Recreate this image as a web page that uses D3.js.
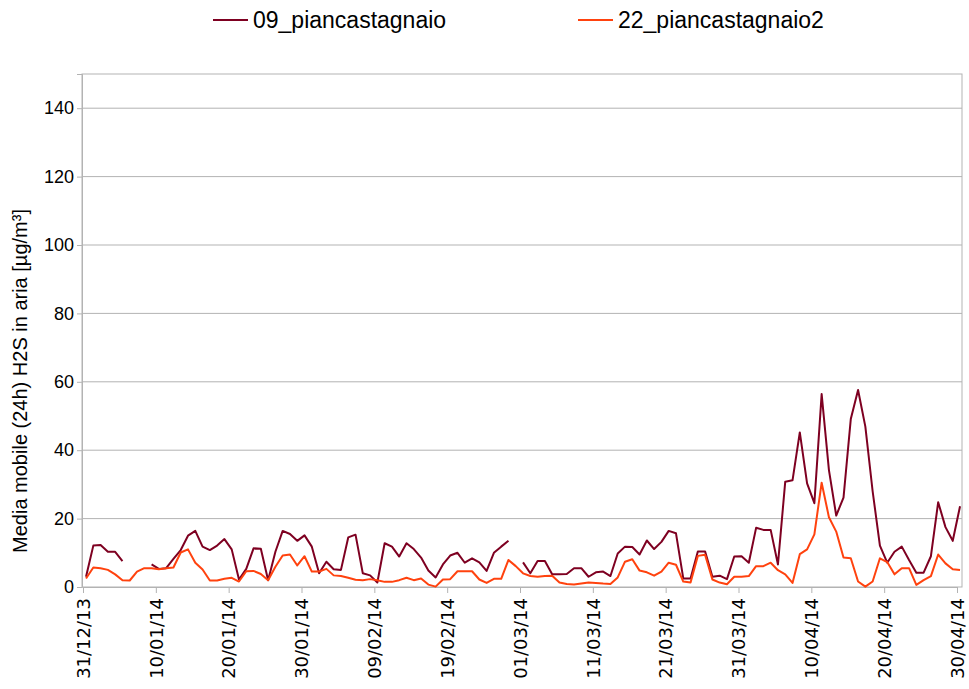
<!DOCTYPE html>
<html>
<head>
<meta charset="utf-8">
<script src="https://cdn.jsdelivr.net/npm/d3@7"></script>
<style>
  body { margin: 0; background: #fff; }
  svg { display: block; font-family: "Liberation Sans", Arial, sans-serif; }
</style>
</head>
<body>
<div id="chart"></div>
<script>
// daily values, 31/12/13 .. 30/04/14 (null = missing)
const startDay = Date.UTC(2013, 11, 31);
const endDay = Date.UTC(2014, 3, 30);
const days = d3.utcDay.range(new Date(startDay), d3.utcDay.offset(new Date(endDay), 1));

const seriesNames = ['09_piancastagnaio', '22_piancastagnaio2'];
const seriesColors = ['#7e0021', '#ff420e'];

const piancastagnaio = [3.0, 12.1, 12.3, 10.3, 10.3, 7.6, null, null, null, 6.6, 5.3, 5.5, 8.2, 10.8, 15.0, 16.4, 11.8,
  10.8, 12.1, 14.0, 11.0, 2.2, 5.3, 11.3, 11.2, 2.0, 10.3, 16.4, 15.5, 13.5, 15.1, 11.8, 4.0,
  7.4, 5.2, 5.0, 14.5, 15.3, 4.0, 3.4, 1.3, 12.8, 11.8, 8.9, 12.8, 11.1, 8.6, 4.8, 2.8,
  6.6, 9.2, 10.0, 7.1, 8.4, 7.2, 4.7, 10.0, 11.8, 13.5, null,
  7.2, 4.0, 7.6, 7.6, 3.7, 3.7,
  3.8, 5.5, 5.5, 3.0, 4.3, 4.5, 3.2, 9.8, 11.8, 11.7, 9.5, 13.6, 11.1, 13.2, 16.4, 15.7,
  2.5, 2.5, 10.4, 10.4, 3.0, 3.3, 2.3, 8.9, 9.0, 7.1, 17.3, 16.7, 16.7, 6.6, 30.8, 31.2,
  45.2, 30.3, 24.5, 56.4, 34.2, 20.9, 26.1, 49.1, 57.6, 46.9, 28.0, 12.1, 7.1, 10.3, 11.8, 7.9,
  4.2, 4.2, 9.0, 24.8, 17.5, 13.5, 23.6];

const piancastagnaio2 = [2.5, 5.7, 5.5, 5.0, 3.7, 2.0, 1.9, 4.5, 5.5, 5.5, 5.2, 5.5, 5.7, 10.1, 11.0, 7.1, 5.1,
  1.9, 1.9, 2.4, 2.7, 1.6, 4.6, 4.7, 3.8, 2.0, 5.9, 9.2, 9.5, 6.3, 9.0, 4.5, 4.5,
  5.3, 3.4, 3.2, 2.7, 2.1, 2.0, 2.3, 2.0, 1.5, 1.5, 2.0, 2.7, 2.0, 2.5, 0.7, 0.1,
  2.2, 2.3, 4.6, 4.6, 4.6, 2.2, 1.2, 2.4, 2.4, 7.9, 6.1, 4.0, 3.2, 3.0, 3.2, 3.3, 1.3,
  0.9, 0.7, 1.0, 1.3, 1.2, 1.0, 0.9, 2.8, 7.4, 8.1, 4.8, 4.3, 3.3, 4.5, 7.1, 6.5,
  1.6, 1.3, 9.1, 9.4, 2.2, 1.3, 0.8, 3.0, 3.0, 3.2, 6.1, 6.1, 7.1, 4.9, 3.7, 1.2,
  9.6, 11.0, 15.4, 30.5, 20.4, 16.2, 8.6, 8.4, 1.6, 0.1, 1.6, 8.4, 7.3, 3.7, 5.5, 5.5,
  0.6, 2.0, 3.2, 9.5, 6.9, 5.2, 5.0];

const yTicks = [0, 20, 40, 60, 80, 100, 120, 140];
const yTitle = 'Media mobile (24h) H2S in aria [µg/m³]';

const W = 969, H = 689;
const plot = { left: 82, right: 962, top: 74, bottom: 587 };

const svg = d3.select('#chart').append('svg')
  .attr('width', W).attr('height', H);

// x: tick 31/12 at 83, 30/04 at 957; samples sit at 10:00 of each day
const x = d3.scaleUtc()
  .domain([new Date(startDay), new Date(endDay)])
  .range([83, 957]);
const y = d3.scaleLinear()
  .domain([0, 150])
  .range([plot.bottom, plot.top]);

// grid
svg.append('g')
  .selectAll('line')
  .data(yTicks.filter(d => d > 0))
  .enter().append('line')
  .attr('x1', plot.left).attr('x2', plot.right)
  .attr('y1', d => y(d)).attr('y2', d => y(d))
  .attr('stroke', '#b3b3b3').attr('stroke-width', 1);

// frame
svg.append('rect')
  .attr('x', plot.left).attr('y', plot.top)
  .attr('width', plot.right - plot.left).attr('height', plot.bottom - plot.top)
  .attr('fill', 'none').attr('stroke', '#b3b3b3').attr('stroke-width', 1);

// y axis
const yAxis = svg.append('g')
  .attr('transform', `translate(${plot.left},0)`)
  .call(d3.axisLeft(y).tickValues(yTicks).tickSize(5).tickPadding(3));
yAxis.select('.domain').attr('stroke', '#b3b3b3');
yAxis.selectAll('.tick line').attr('stroke', '#b3b3b3');
yAxis.selectAll('.tick text').attr('font-size', 18).attr('fill', '#000')
  .attr('font-family', '"Liberation Sans", Arial, sans-serif');

// x axis
const xTickDates = d3.range(0, 121, 10).map(k => d3.utcDay.offset(new Date(startDay), k));
const xAxis = svg.append('g')
  .attr('transform', `translate(0,${plot.bottom})`)
  .call(d3.axisBottom(x).tickValues(xTickDates).tickFormat(d3.utcFormat('%d/%m/%y')).tickSize(6));
xAxis.select('.domain').attr('stroke', '#b3b3b3');
xAxis.selectAll('.tick line').attr('stroke', '#b3b3b3');
xAxis.selectAll('.tick text')
  .attr('font-size', 18).attr('fill', '#000')
  .attr('font-family', '"DejaVu Sans", sans-serif')
  .attr('transform', 'rotate(-90)')
  .attr('text-anchor', 'end')
  .attr('x', -11).attr('y', 0).attr('dy', '0.35em');

// y title
svg.append('text')
  .attr('transform', 'translate(27,381) rotate(-90)')
  .attr('text-anchor', 'middle')
  .attr('font-size', 20)
  .text(yTitle);

// lines
const allSeries = [piancastagnaio, piancastagnaio2];
const line = d3.line()
  .defined(d => d.v != null)
  .x(d => x(d.t))
  .y(d => y(d.v));

allSeries.forEach((vals, s) => {
  const pts = vals.map((v, i) => ({ t: d3.utcHour.offset(days[i], 10), v: v }));
  svg.append('path')
    .datum(pts)
    .attr('fill', 'none')
    .attr('stroke', seriesColors[s])
    .attr('stroke-width', 2)
    .attr('stroke-linejoin', 'round')
    .attr('d', line);
});

// legend
const legendX = [213, 578];
seriesNames.forEach((name, s) => {
  const g = svg.append('g').attr('transform', `translate(${legendX[s]},20)`);
  g.append('line').attr('x1', 0).attr('x2', 35).attr('y1', 0).attr('y2', 0)
    .attr('stroke', seriesColors[s]).attr('stroke-width', 2);
  g.append('text').attr('x', 40).attr('y', 0).attr('dy', '0.35em')
    .attr('font-size', 23).text(name);
});
</script>
</body>
</html>
